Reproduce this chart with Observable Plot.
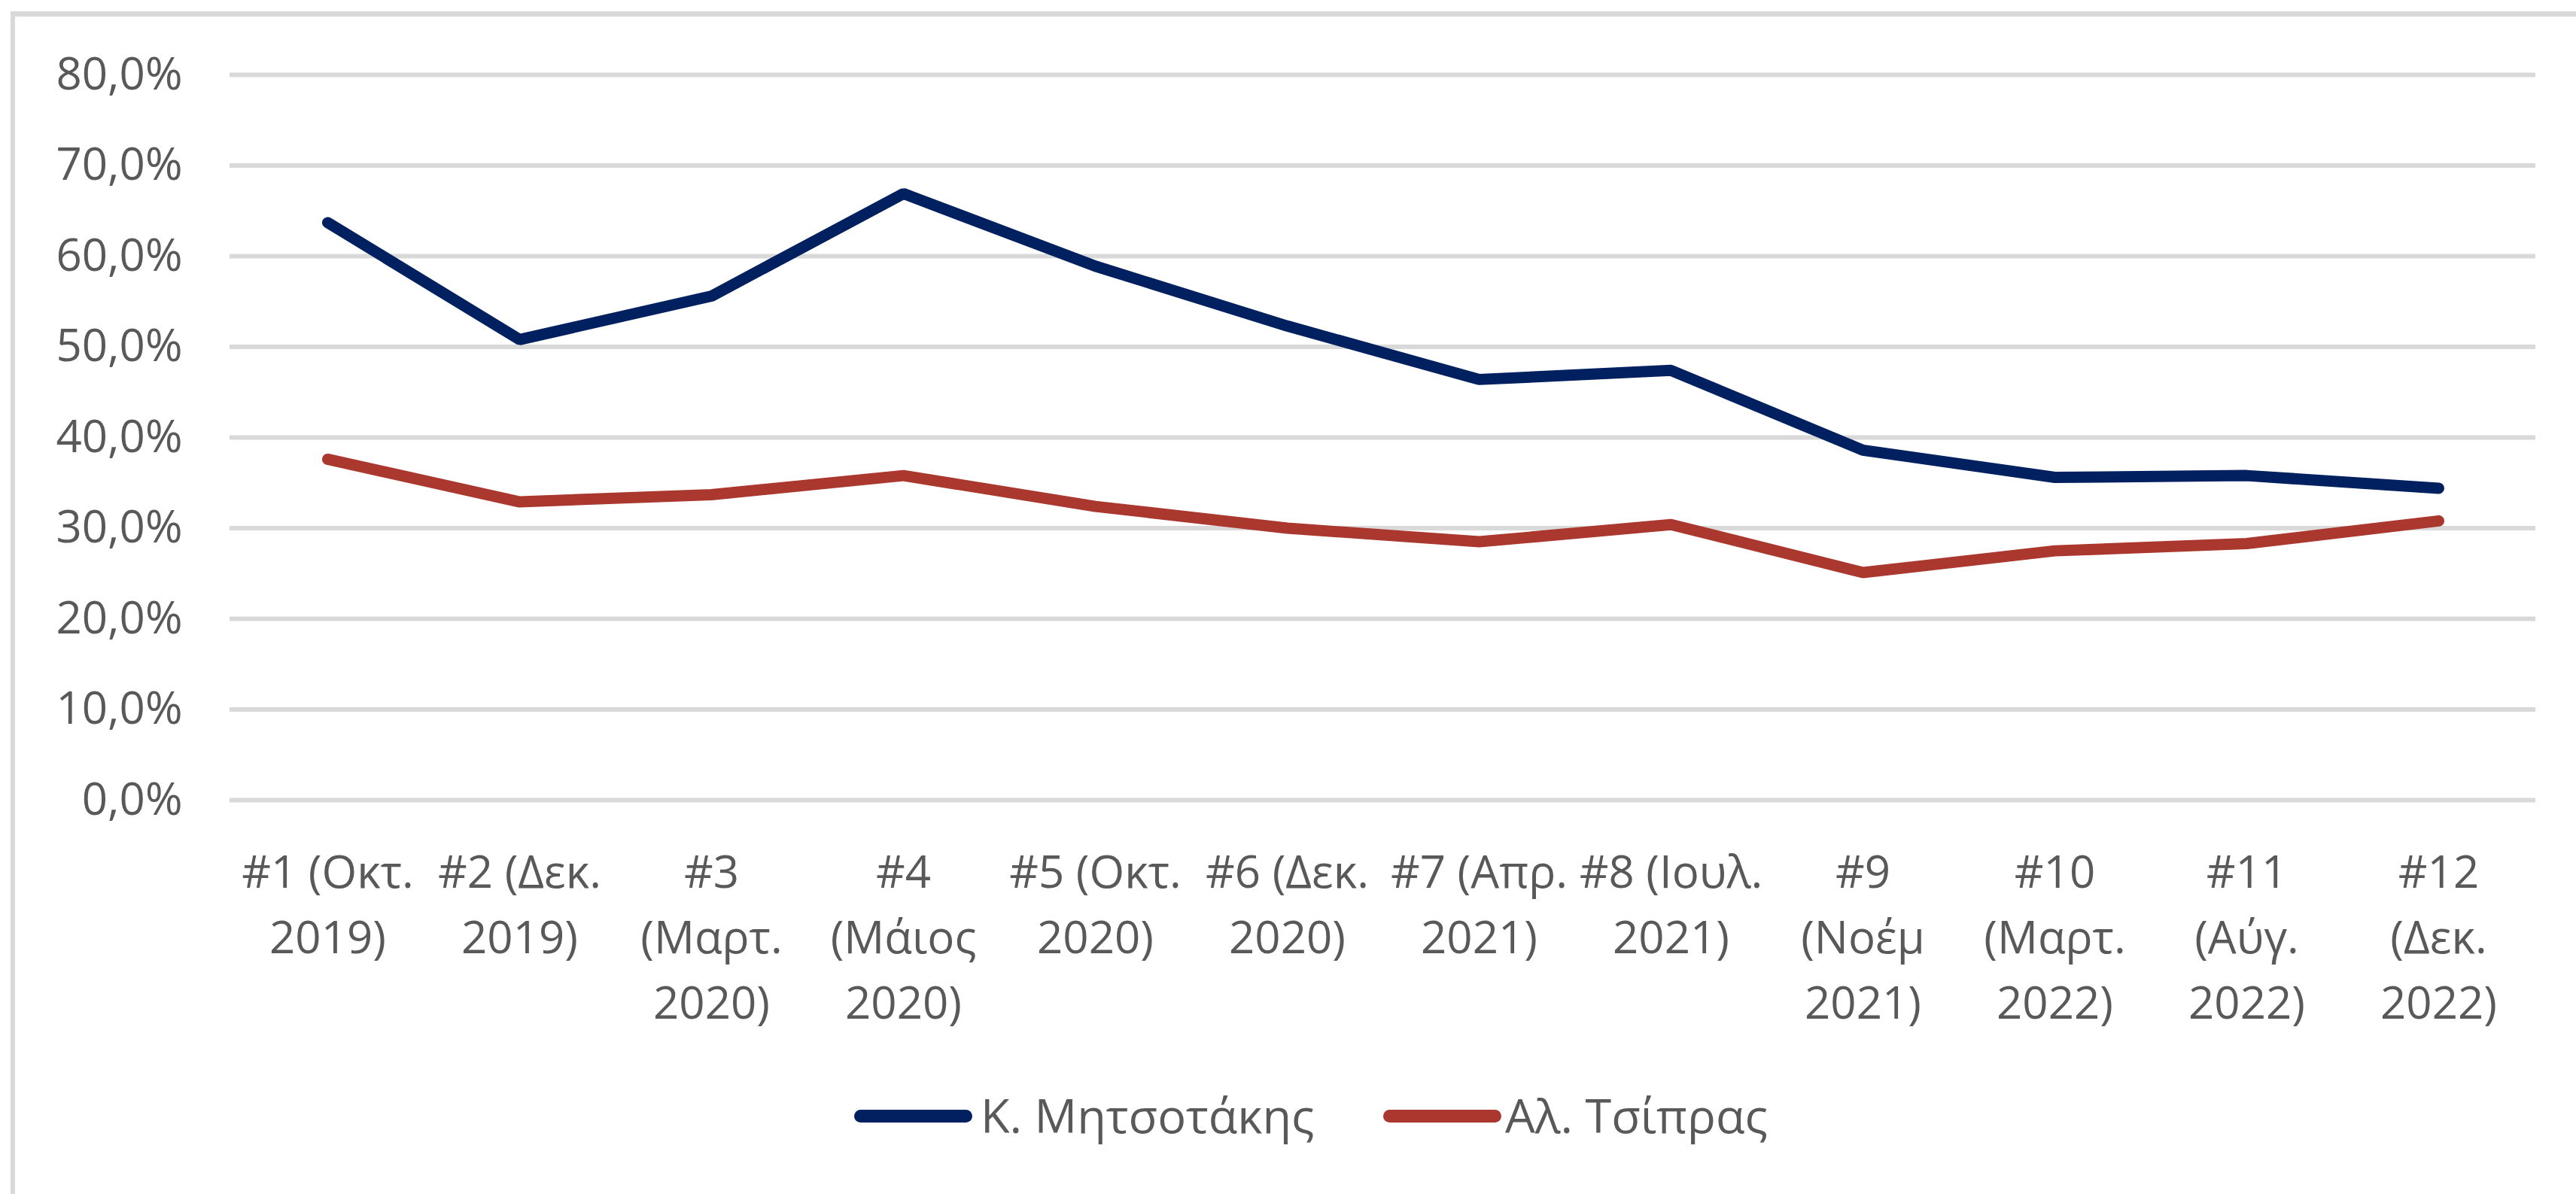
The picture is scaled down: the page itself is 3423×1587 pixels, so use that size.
<!DOCTYPE html>
<html>
<head>
<meta charset="utf-8">
<script src="https://cdn.jsdelivr.net/npm/d3@7"></script>
<script src="https://cdn.jsdelivr.net/npm/@observablehq/plot@0.6"></script>
<style>
  html, body { margin: 0; padding: 0; background: #fff; }
  #wrap { position: relative; width: 3423px; height: 1587px; overflow: hidden; font-family: "Open Sans", sans-serif; }
  #frame { position: absolute; left: 14px; top: 15px; width: 3500px; height: 1700px; border-left: 6px solid #D9D9D9; border-top: 7px solid #D9D9D9; box-sizing: border-box; }
  #chart { position: absolute; left: 0; top: 0; }
  #legend { position: absolute; left: 0; top: 0; width: 3423px; height: 1587px; pointer-events: none; }
  .sw { position: absolute; height: 17px; border-radius: 8.5px; top: 1475px; }
  .lbl { position: absolute; top: 1439px; font-size: 63px; line-height: normal; color: #595959; white-space: nowrap; }
</style>
</head>
<body>
<div id="wrap">
  <div id="frame"></div>
  <div id="chart"></div>
  <div id="legend"></div>
</div>
<script>
const categories = ["#1","#2","#3","#4","#5","#6","#7","#8","#9","#10","#11","#12"];
const xTickLabels = [
  "#1 (Οκτ.\n2019)",
  "#2 (Δεκ.\n2019)",
  "#3\n(Μαρτ.\n2020)",
  "#4\n(Μάιος\n2020)",
  "#5 (Οκτ.\n2020)",
  "#6 (Δεκ.\n2020)",
  "#7 (Απρ.\n2021)",
  "#8 (Ιουλ.\n2021)",
  "#9\n(Νοέμ\n2021)",
  "#10\n(Μαρτ.\n2022)",
  "#11\n(Αύγ.\n2022)",
  "#12\n(Δεκ.\n2022)"
];
const seriesNames = ["Κ. Μητσοτάκης", "Αλ. Τσίπρας"];
const seriesColors = ["#002060", "#AB382E"];
const mitsotakis = [63.7, 50.8, 55.6, 66.9, 58.9, 52.3, 46.4, 47.4, 38.6, 35.6, 35.8, 34.4];
const tsipras = [37.6, 32.9, 33.7, 35.8, 32.4, 30.0, 28.5, 30.4, 25.1, 27.5, 28.3, 30.8];
const yTicks = [0, 10, 20, 30, 40, 50, 60, 70, 80];
const yTickLabels = ["0,0%","10,0%","20,0%","30,0%","40,0%","50,0%","60,0%","70,0%","80,0%"];

const data = [];
categories.forEach((c, i) => {
  data.push({cat: c, value: mitsotakis[i], series: seriesNames[0]});
});
categories.forEach((c, i) => {
  data.push({cat: c, value: tsipras[i], series: seriesNames[1]});
});

const W = 3423, H = 1400;
const chart = Plot.plot({
  width: W,
  height: H,
  marginLeft: 305,
  marginRight: 54,
  marginTop: 99,
  marginBottom: H - 1063,
  style: {fontFamily: "Open Sans, sans-serif", fontSize: "60px", color: "#595959", background: "transparent", overflow: "visible"},
  x: {type: "point", domain: categories, padding: 0.5},
  y: {domain: [0, 80]},
  color: {domain: seriesNames, range: seriesColors},
  marks: [
    Plot.ruleY(yTicks, {stroke: "#D9D9D9", strokeWidth: 6}),
    Plot.axisY({ticks: yTicks, tickSize: 0, tickPadding: 63, tickFormat: (d) => yTickLabels[yTicks.indexOf(d)], label: null, fill: "#595959"}),
    Plot.axisX({tickSize: 0, tickPadding: 55, lineHeight: 1.45, tickFormat: (d) => xTickLabels[categories.indexOf(d)], label: null, fill: "#595959"}),
    Plot.line(data, {x: "cat", y: "value", z: "series", stroke: "series", strokeWidth: 15, strokeLinecap: "round", strokeLinejoin: "miter"})
  ]
});
document.getElementById("chart").appendChild(chart);

// legend layout (px positions of swatch start, swatch width, label start)
const legendSwatchX = [1135, 1838];
const legendLabelX = [1303, 2000];
const legend = document.getElementById("legend");
seriesNames.forEach((n, i) => {
  const sw = document.createElement("div");
  sw.className = "sw";
  sw.style.left = legendSwatchX[i] + "px";
  sw.style.width = "157px";
  sw.style.background = seriesColors[i];
  const lb = document.createElement("div");
  lb.className = "lbl";
  lb.style.left = legendLabelX[i] + "px";
  lb.textContent = n;
  legend.appendChild(sw);
  legend.appendChild(lb);
});
</script>
</body>
</html>
